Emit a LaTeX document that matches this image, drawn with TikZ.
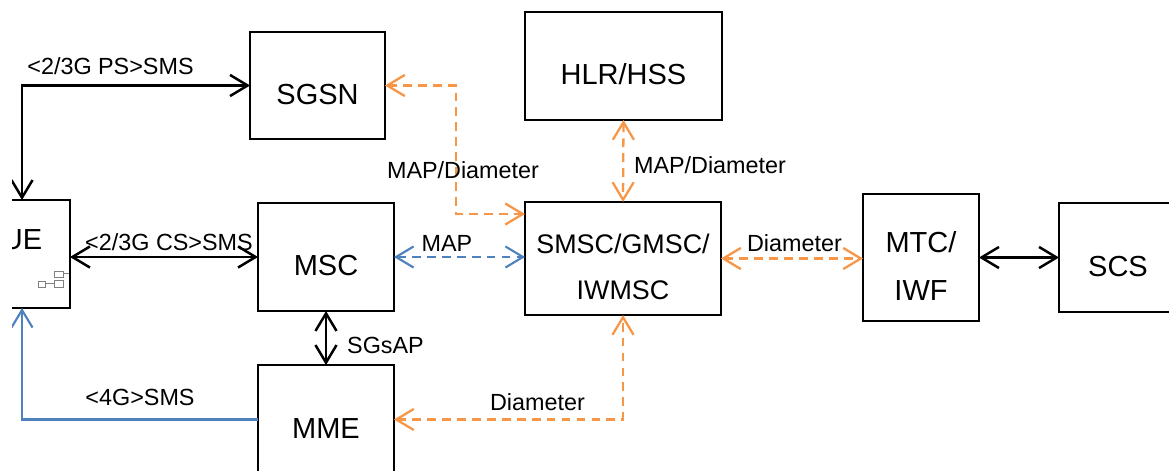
\documentclass[tikz,border=0pt]{standalone}
\usepackage{fontspec}
\setmainfont{Liberation Sans}
\usetikzlibrary{arrows.meta}

\definecolor{diaOrange}{RGB}{247,150,70}
\definecolor{diaBlue}{RGB}{79,129,189}

\begin{document}
\begin{tikzpicture}[x=0.02cm, y=-0.02cm,
    >={Straight Barb[length=10pt,width=12pt]},
    box/.style={draw, line width=0.7pt, inner sep=0pt, outer sep=0pt, align=center, text height=21.4pt,
      font=\fontsize{16.5pt}{27.5pt}\selectfont},
    lbl/.style={inner sep=0pt, text height=9.6pt, text depth=0pt, font=\fontsize{13.3pt}{16pt}\selectfont},
    link/.style={line width=1.4pt},
    dia/.style={link, <->, diaOrange, line width=1.3pt, dash pattern=on 5pt off 3.5pt},
    map/.style={link, <->, diaBlue, line width=1.2pt, dash pattern=on 5pt off 3.5pt}]
  \useasboundingbox (0,0) rectangle (1169,470);
  \clip (12,0) rectangle (1169,470);

  \node[box, minimum width=1.92cm, minimum height=2.16cm, text height=12pt, text depth=17pt] (ue) at (22,254) {UE};
  \node[box, minimum width=2.7cm, minimum height=2.14cm] (sgsn) at (317.5,85.5) {SGSN};
  \node[box, minimum width=3.94cm, minimum height=2.16cm] (hlr) at (623.5,66) {HLR/HSS};
  \node[box, minimum width=2.72cm, minimum height=2.16cm] (msc) at (326,257) {MSC};
  \node[box, minimum width=3.92cm, minimum height=2.26cm, text height=47.2pt, font=\fontsize{15.3pt}{26.6pt}\selectfont] (smsc) at (623,258.5) {SMSC/GMSC/\\IWMSC};
  \node[box, minimum width=2.32cm, minimum height=2.54cm, text height=48.9pt] (mtc) at (921,257.5) {MTC/\\IWF};
  \node[box, minimum width=2.36cm, minimum height=2.18cm] (scs) at (1118,257.5) {SCS};
  \node[box, minimum width=2.72cm, minimum height=2.18cm] (mme) at (326,419.5) {MME};

  \draw[gray, line width=0.3pt] (38,281) rectangle (45,287) (54,280) rectangle (63,287)
    (54,271) rectangle (63,277) (45,283.5) -- (54,283.5) (63,273.5) -- (69,273.5);

  \coordinate (bendA) at (456,85.5);
  \draw[link, <->] (sgsn.west) -| (ue.north);
  \draw[link, <->] (ue.east |- msc.west) -- (msc.west);
  \draw[link, <->] (msc.south) -- (mme.north);
  \draw[link, ->, diaBlue, line width=1.2pt] (mme.west) -| (ue.south);
  \draw[map] (msc.east) -- (smsc.west |- msc.east);
  \draw[dia] (sgsn.east) -- (bendA) |- ([yshift=-0.24cm]smsc.north west);
  \draw[dia] (hlr.south) -- (smsc.north);
  \draw[dia] (smsc.east) -- (mtc.west |- smsc.east);
  \draw[link, <->] (mtc.east) -- (scs.west |- mtc.east);
  \draw[dia] (mme.east) -| (smsc.south);

  \node[lbl] (lblPS) at (110.5,66) {<2/3G PS>SMS};
  \node[lbl] (lblCS) at (169,242) {<2/3G CS>SMS};
  \node[lbl] (lblSGs) at (385.5,345) {SGsAP};
  \node[lbl] (lbl4G) at (140,397) {<4G>SMS};
  \node[lbl] (lblMap) at (447,243) {MAP};
  \node[lbl] (lblSgsnDia) at (463,170) {MAP/Diameter};
  \node[lbl] (lblHlrDia) at (710,165) {MAP/Diameter};
  \node[lbl] (lblMtcDia) at (794.5,243) {Diameter};
  \node[lbl] (lblMmeDia) at (537.5,402) {Diameter};
\end{tikzpicture}
\end{document}
